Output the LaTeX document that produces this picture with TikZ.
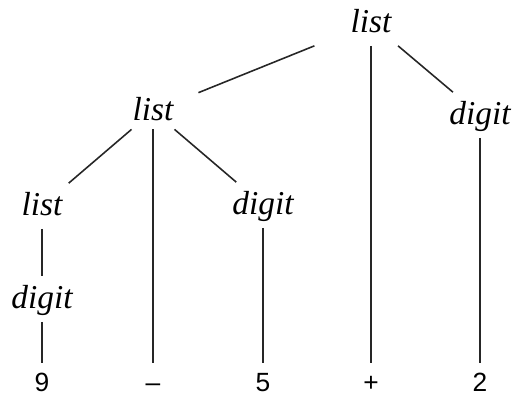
\documentclass[tikz,border=0pt]{standalone}
\usepackage{fontspec}
\setmainfont{Liberation Serif}
\newfontfamily\leaffont{Liberation Sans}

\tikzset{
    nonterm/.style = {rectangle, inner sep=0pt,
        minimum width = 2.4cm, minimum height = 0.9cm,
        text height = 13pt, text depth = 2pt,
        font = \itshape\fontsize{19}{21}\selectfont},
    leaf/.style = {rectangle, inner sep=0pt, anchor=base,
        minimum width = 1cm,
        text height = 16pt, text depth = 0pt,
        font = \leaffont\fontsize{15}{17}\selectfont},
    branch/.style = {draw = black!85, line width = 0.9pt}
}

\begin{document}
\begin{tikzpicture}[x=0.02cm, y=-0.02cm]

    \useasboundingbox (0,0) rectangle (512,397);

    % nonterminals
    \node[nonterm] (root) at (371,23) {list};
    \node[nonterm, minimum height = 0.72cm] (list1) at (153,111) {list};
    \node[nonterm] (digit1) at (480,115) {digit};
    \node[nonterm] (list2) at (42,206) {list};
    \node[nonterm] (digit2) at (263,205) {digit};
    \node[nonterm] (digit3) at (42,299) {digit};

    % leaves
    \node[leaf] (nine) at (42,391) {9};
    \node[leaf] (minus) at (153,391) {–};
    \node[leaf] (five) at (263,391) {5};
    \node[leaf] (plus) at (371,391) {+};
    \node[leaf] (two) at (480,391) {2};

      \draw[branch] (root) to (list1);
      \draw[branch] (root) to (plus);
      \draw[branch] (root) to (digit1);

      \draw[branch] (list1) to (list2);
      \draw[branch] (list1) to (minus);
      \draw[branch] (list1) to (digit2);

      \draw[branch] (list2) to (digit3);
      \draw[branch] (digit3) to (nine);
      \draw[branch] (digit2) to (five);
      \draw[branch] (digit1) to (two);
  \end{tikzpicture}
\end{document}
